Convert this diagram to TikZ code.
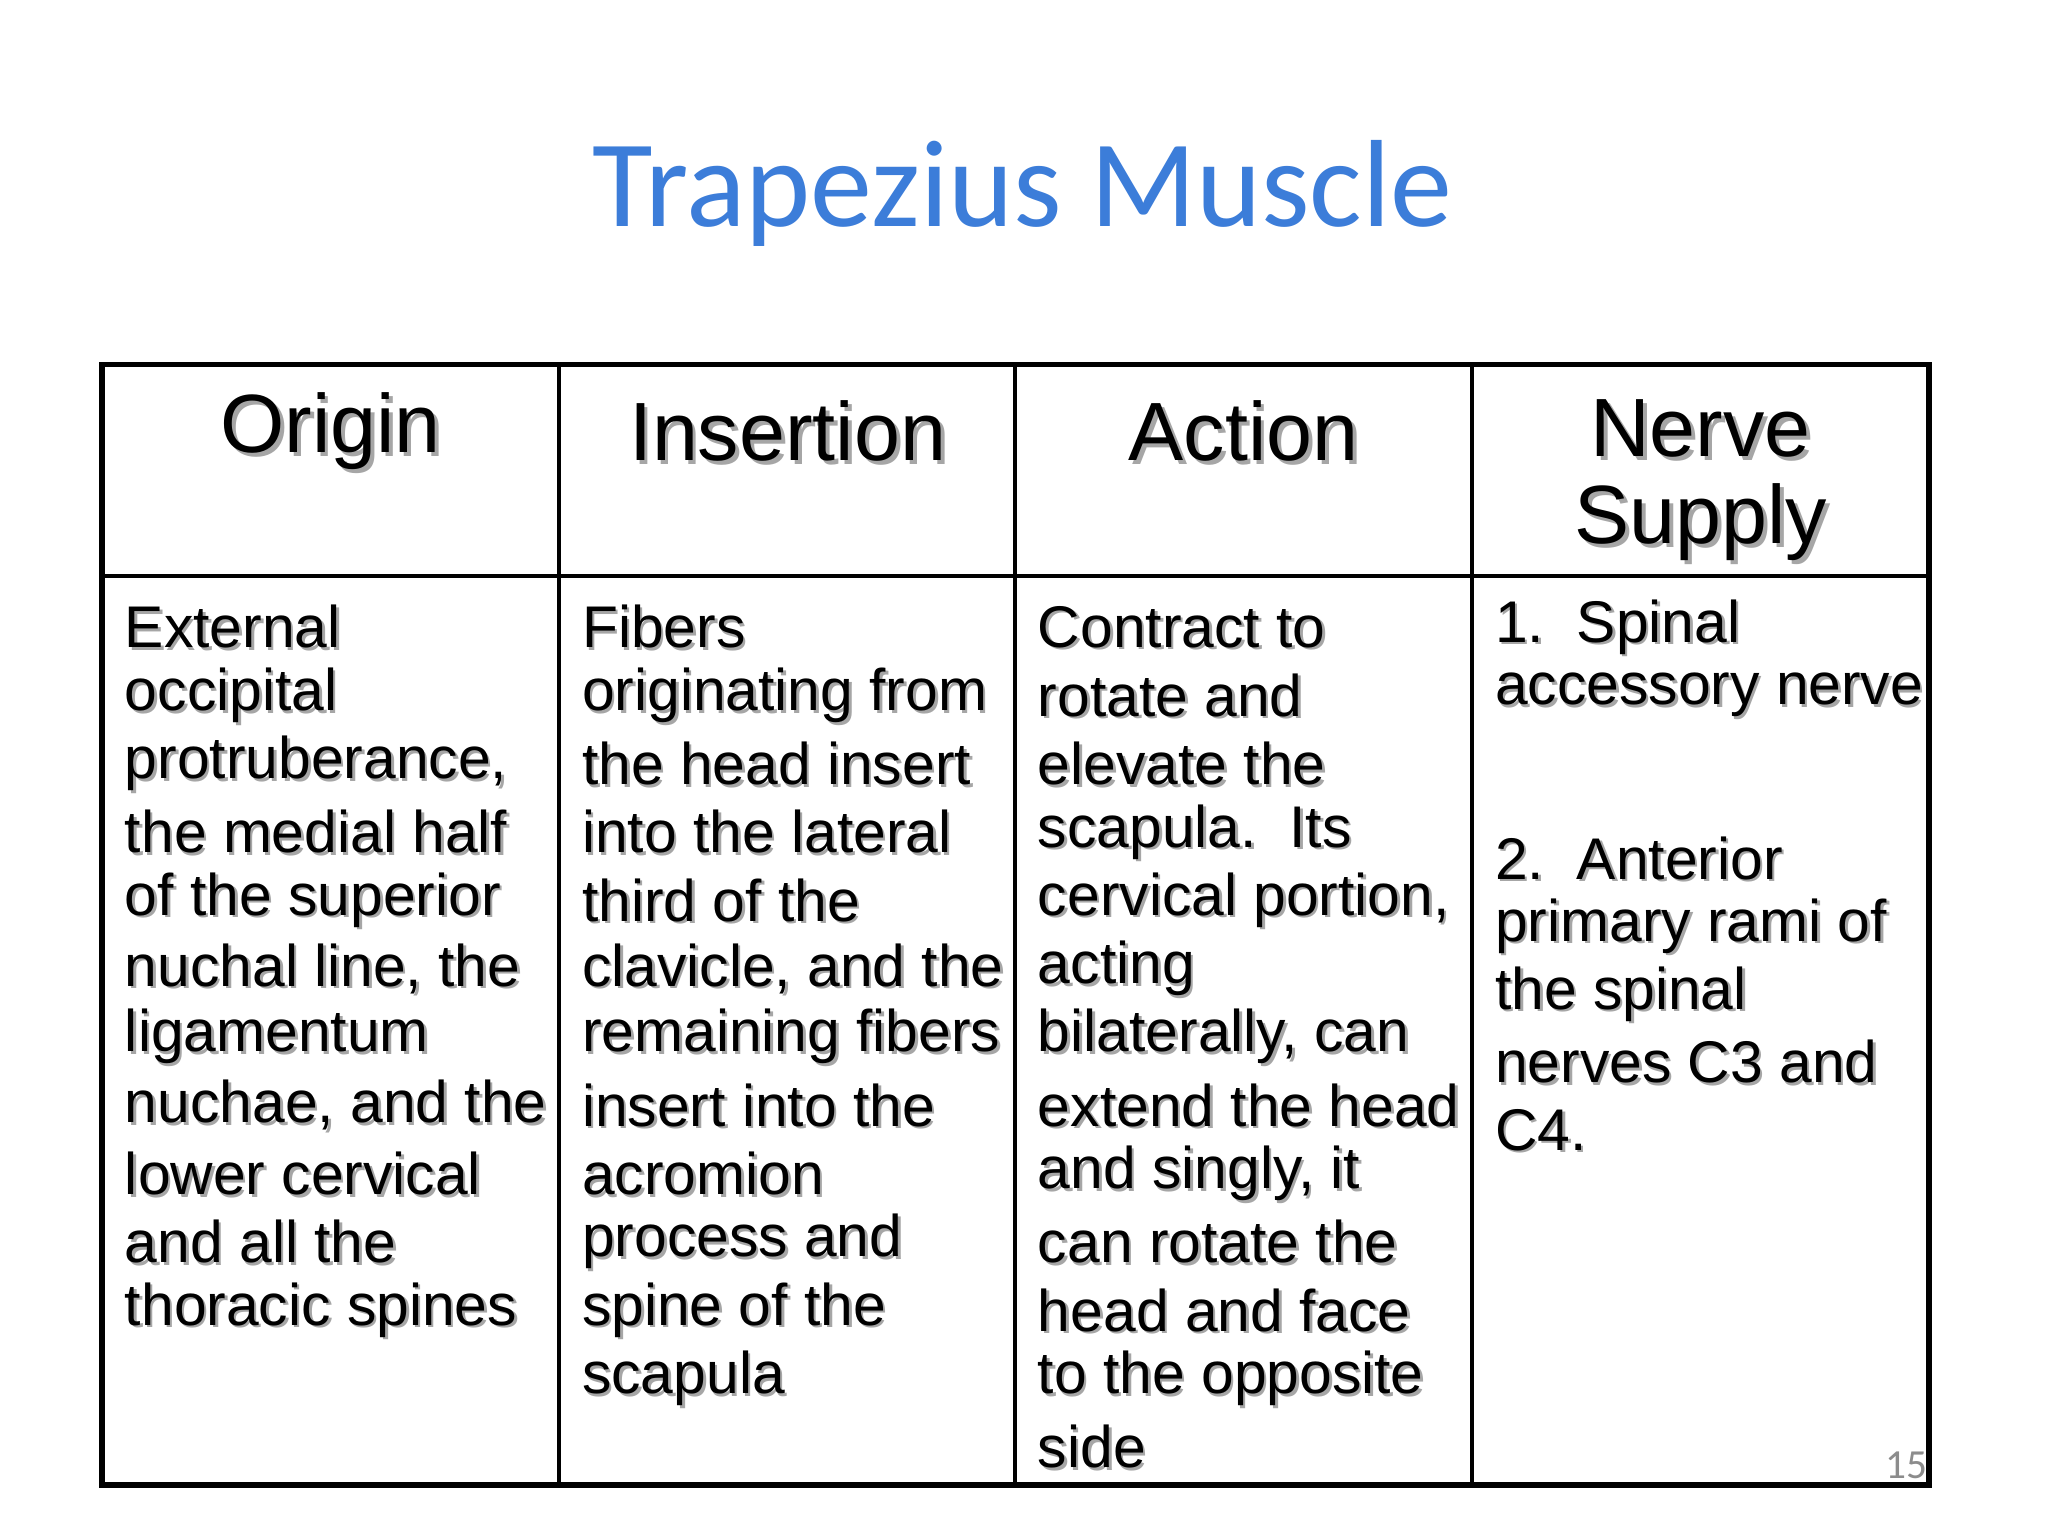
\documentclass[tikz,border=0pt]{standalone}
\usepackage{fontspec}
\setmainfont{Liberation Sans}
\newfontfamily\titlefont{Carlito}
\definecolor{titleblue}{HTML}{3C7DD9}
\newcommand{\shtext}[1]{#1}
\tikzset{
 body/.style={anchor=west,inner sep=0pt,font=\fontsize{12.8}{15}\selectfont},
 head/.style={anchor=center,inner sep=0pt,font=\fontsize{18}{22}\selectfont},
 shadowed/.style={text=black!35}
}
\begin{document}
\begin{tikzpicture}[x=0.01cm,y=-0.01cm]
\useasboundingbox[fill=white] (0,0) rectangle (1568,1176);
\node[inner sep=0pt,text=titleblue,font=\titlefont\fontsize{27}{32}\selectfont] (title) at (783,148) {Trapezius Muscle};
% grid
\draw[line width=1.2pt] (78,279) rectangle (1477,1137);
\foreach \x in {428,777,1127} \draw[line width=0.8pt] (\x,279) -- (\x,1137);
\draw[line width=0.8pt] (78,441) -- (1477,441);
% headers with shadow
\foreach \t/\x/\y [count=\i] in {Origin/253/330,Insertion/603/330,Action/952/330,Nerve/1302/328,Supply/1302/400}{
 \node[head,shadowed] at (\x+3,\y+3) {\t};
 \node[head] (h\i) at (\x,\y) {\t};
}
% body columns
\def\colA{External,occipital,{protruberance,},the medial half,of the superior,{nuchal line, the},ligamentum,{nuchae, and the},lower cervical,and all the,thoracic spines}
\def\colB{Fibers,originating from,the head insert,into the lateral,third of the,{clavicle, and the},remaining fibers,insert into the,acromion,process and,spine of the,scapula}
\def\colC{Contract to,rotate and,elevate the,scapula.\ \ Its,{cervical portion,},acting,{bilaterally, can},extend the head,{and singly, it},can rotate the,head and face,to the opposite,side}
\foreach \l [count=\i] in \colA {
 \node[body,shadowed] at (97,480+52.3*\i-52.3+2) {\l};
 \node[body] (a\i) at (95,480+52.3*\i-52.3) {\l};}
\foreach \l [count=\i] in \colB {
 \node[body,shadowed] at (447,480+52.3*\i-52.3+2) {\l};
 \node[body] (b\i) at (445,480+52.3*\i-52.3) {\l};}
\foreach \l [count=\i] in \colC {
 \node[body,shadowed] at (796,480+52.3*\i-52.3+2) {\l};
 \node[body] (c\i) at (794,480+52.3*\i-52.3) {\l};}
\foreach \l/\y [count=\i] in {1.\ \ Spinal/480,accessory nerve/532,2.\ \ Anterior/657,primary rami of/709,the spinal/761,nerves C3 and/813,C4./865}{
 \node[body,shadowed] at (1146,\y+2) {\l};
 \node[body] (d\i) at (1144,\y) {\l};}
\node[inner sep=0pt,text=black!45,font=\titlefont\fontsize{9}{10}\selectfont] (pg) at (1460,1122) {15};
\end{tikzpicture}
\end{document}
